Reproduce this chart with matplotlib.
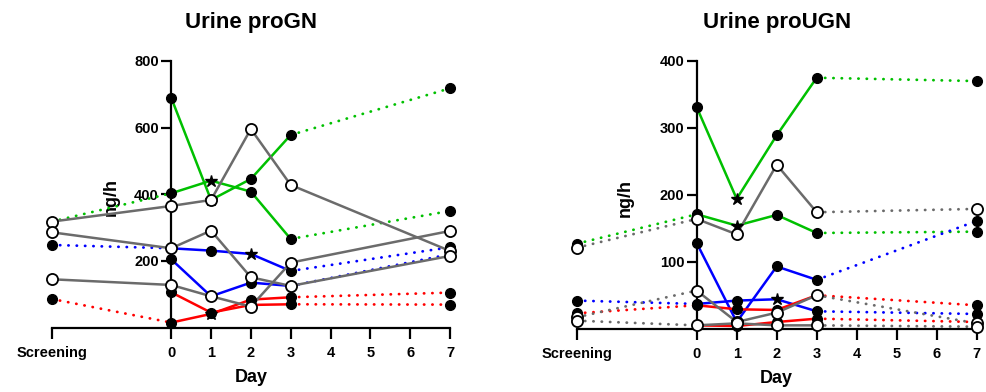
import numpy as np
import matplotlib.pyplot as plt

plt.rcParams['font.family'] = ['Liberation Sans', 'DejaVu Sans']
plt.rcParams['font.weight'] = 'bold'

nan = np.nan
days = [-3, 0, 1, 2, 3, 7]
tick_pos = [-3, 0, 1, 2, 3, 4, 5, 6, 7]
tick_labels = ['Screening', '0', '1', '2', '3', '4', '5', '6', '7']

# Urine proGN, ng/h  (Screening, day 0, 1, 2, 3, 7)
gn_green_a = [nan, 690, 383, 446, 578, 718]
gn_green_b = [318, 403, 441, 408, 266, 350]
gn_gray_a = [318, 365, 383, 596, 428, 230]
gn_gray_b = [286, 238, 291, 151, 125, 215]
gn_gray_c = [145, 128, 94, 63, 195, 290]
gn_blue_a = [248, 238, 231, 221, 170, 241]
gn_blue_b = [nan, 205, 94, 135, 125, 220]
gn_red_a = [86, 15, 41, 84, 91, 105]
gn_red_b = [nan, 106, 45, 68, 70, 69]

# Urine proUGN, ng/h
ugn_green_a = [nan, 331, 194, 289, 375, 370]
ugn_green_b = [127, 171, 154, 170, 143, 145]
ugn_gray_a = [121, 164, 141, 245, 174, 179]
ugn_gray_b = [17, 57, 10, 24, 50, 8]
ugn_gray_c = [12, 5, 8, 5, 5, 3]
ugn_blue_a = [nan, 128, 10, 93, 73, 161]
ugn_blue_b = [42, 37, 42, 44, 26, 22]
ugn_red_a = [23, 35, 29, 28, 50, 35]
ugn_red_b = [nan, 5, 4, 10, 15, 10]

GREEN = '#00c000'
GRAY = '#6b6b6b'
BLUE = '#0000ff'
RED = '#ff0000'
DOT = (0, (0.1, 2.9))


def draw_series(ax, vals, color, hollow=False, stars=(), solid_ends=False):
    x = np.array(days, float)
    y = np.array(vals, float)
    ax.plot(x[1:5], y[1:5], color=color, lw=1.8, zorder=2,
            solid_capstyle='round', clip_on=False)
    for seg in (slice(0, 2), slice(4, 6)):
        if np.isnan(y[seg]).any():
            continue
        if solid_ends:
            ax.plot(x[seg], y[seg], color=color, lw=1.8, zorder=2, clip_on=False)
        else:
            ax.plot(x[seg], y[seg], color=color, lw=2.0, ls=DOT,
                    dash_capstyle='round', zorder=2, clip_on=False)
    for i in range(len(x)):
        if np.isnan(y[i]):
            continue
        if i in stars:
            ax.plot(x[i], y[i], marker='*', ms=9, color='black', zorder=3,
                    clip_on=False)
        elif hollow:
            ax.plot(x[i], y[i], marker='o', ms=8, mfc='white', mec='black',
                    mew=1.3, zorder=5, clip_on=False)
        else:
            ax.plot(x[i], y[i], marker='o', ms=7, color='black', zorder=4,
                    clip_on=False)


def style_axes(ax, ymax, yticks):
    ax.set_xlim(-3, 7)
    ax.set_ylim(0, ymax)
    for s in ('top', 'right'):
        ax.spines[s].set_visible(False)
    ax.spines['left'].set_position(('data', 0))
    ax.spines['left'].set_linewidth(1.6)
    ax.spines['bottom'].set_linewidth(1.6)
    ax.set_xticks(tick_pos, tick_labels)
    ax.set_yticks(yticks)
    ax.tick_params(axis='x', width=1.6, length=8, labelsize=10.5, pad=5)
    ax.tick_params(axis='y', width=1.6, length=7, labelsize=10.5, pad=2)
    for lab in ax.get_xticklabels() + ax.get_yticklabels():
        lab.set_fontweight('bold')
    ax.set_xlabel('Day', fontsize=13, fontweight='bold', labelpad=7)


fig = plt.figure(figsize=(9.87, 3.92), dpi=100)
ax1 = fig.add_axes([51.7 / 987, 1 - 327.6 / 392, 398.3 / 987, 266.6 / 392])
ax2 = fig.add_axes([576.7 / 987, 1 - 328.7 / 392, 400 / 987, 267.7 / 392])

draw_series(ax1, gn_green_a, GREEN, stars=(2,))
draw_series(ax1, gn_green_b, GREEN, stars=(2,))
draw_series(ax1, gn_blue_a, BLUE, stars=(3,))
draw_series(ax1, gn_blue_b, BLUE)
draw_series(ax1, gn_red_a, RED, stars=(2,))
draw_series(ax1, gn_red_b, RED)
draw_series(ax1, gn_gray_a, GRAY, hollow=True, solid_ends=True)
draw_series(ax1, gn_gray_b, GRAY, hollow=True, solid_ends=True)
draw_series(ax1, gn_gray_c, GRAY, hollow=True, solid_ends=True)
style_axes(ax1, 800, [200, 400, 600, 800])
ax1.set_ylabel('ng/h', fontsize=13, fontweight='bold')
ax1.yaxis.set_label_coords(0.172, 0.49)
ax1.set_title('Urine proGN', fontsize=16, fontweight='bold', pad=24)

draw_series(ax2, ugn_green_a, GREEN, stars=(2,))
draw_series(ax2, ugn_green_b, GREEN, stars=(2,))
draw_series(ax2, ugn_blue_a, BLUE, stars=(2,))
draw_series(ax2, ugn_blue_b, BLUE, stars=(3,))
draw_series(ax2, ugn_red_a, RED)
draw_series(ax2, ugn_red_b, RED)
draw_series(ax2, ugn_gray_a, GRAY, hollow=True)
draw_series(ax2, ugn_gray_b, GRAY, hollow=True)
draw_series(ax2, ugn_gray_c, GRAY, hollow=True)
style_axes(ax2, 400, [100, 200, 300, 400])
ax2.set_ylabel('ng/h', fontsize=13, fontweight='bold')
ax2.yaxis.set_label_coords(0.143, 0.49)
ax2.set_title('Urine proUGN', fontsize=16, fontweight='bold', pad=24)

fig.savefig('out.png', dpi=100)
